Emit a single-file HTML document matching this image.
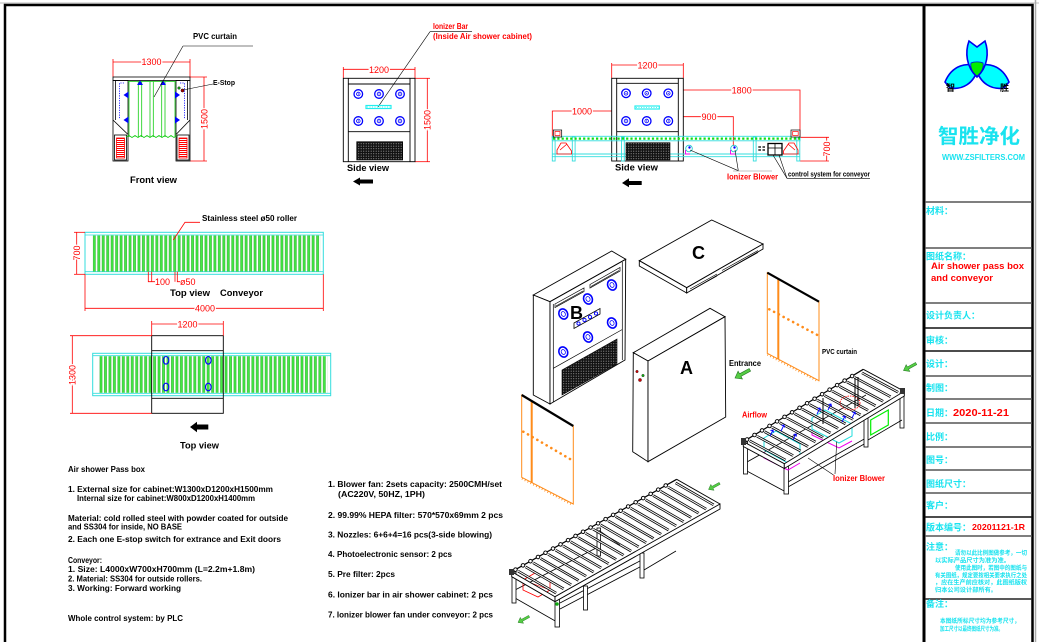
<!DOCTYPE html>
<html><head><meta charset="utf-8"><title>Air shower pass box and conveyor</title>
<style>
html,body{margin:0;padding:0;background:#fff;width:1039px;height:642px;overflow:hidden}
svg{display:block}
text{font-family:"Liberation Sans","Noto Sans CJK SC",sans-serif}
.t{font-size:8px;font-weight:bold;fill:#000}
.d{font-size:9px;fill:#f00;paint-order:stroke;stroke:#fff;stroke-width:2.5px}
.lb{font-size:9.5px;font-weight:bold;fill:#000}
.cn{font-size:9px;font-weight:bold;fill:#19e3ef}
.rd{font-weight:bold;fill:#f00}
.sm{font-size:6px;font-weight:bold;fill:#19e3ef}
</style></head><body>
<svg width="1039" height="642" viewBox="0 0 1039 642" xmlns="http://www.w3.org/2000/svg">
<defs>
<pattern id="gr" patternUnits="userSpaceOnUse" width="2.5" height="2.5"><rect width="2.5" height="2.5" fill="#111"/><rect x="0.7" y="0.7" width="1" height="1" fill="#999"/></pattern>
<pattern id="rg" patternUnits="userSpaceOnUse" width="4" height="2"><rect width="4" height="2" fill="#fff"/><rect width="4" height="1" fill="#f00"/></pattern>
<pattern id="ra" patternUnits="userSpaceOnUse" x="92.8" y="0" width="4.466" height="10"><rect x="0.2" width="2.6" height="10" fill="#119911"/><rect x="0.7" width="1.6" height="10" fill="#44ee44"/></pattern>
<pattern id="rb" patternUnits="userSpaceOnUse" x="99.5" y="0" width="4.466" height="10"><rect x="0.2" width="2.6" height="10" fill="#119911"/><rect x="0.7" width="1.6" height="10" fill="#44ee44"/></pattern>
<g id="nz"><circle r="4.3" fill="none" stroke="#00f" stroke-width="1.3"/><circle r="1.8" fill="none" stroke="#00f" stroke-width="0.8"/><circle r="0.6" fill="#00f"/></g>
<g id="nzi"><ellipse rx="4.3" ry="5.2" transform="rotate(-25)" fill="#fff" stroke="#00f" stroke-width="1.6"/><ellipse rx="2" ry="2.5" transform="rotate(-25)" fill="none" stroke="#00f" stroke-width="0.8"/></g>
<polygon id="ga" points="0,0 3.09,-6.83 4.54,-4.2 14.18,-9.5 15.62,-6.88 5.98,-1.58 7.43,1.05" fill="#55cc44" stroke="#227722" stroke-width="0.6"/>
<g id="rl22">
<line x1="0.5" y1="0.06" x2="0.5" y2="0.94" vector-effect="non-scaling-stroke"/><line x1="1.5" y1="0.06" x2="1.5" y2="0.94" vector-effect="non-scaling-stroke"/><line x1="2.5" y1="0.06" x2="2.5" y2="0.94" vector-effect="non-scaling-stroke"/><line x1="3.5" y1="0.06" x2="3.5" y2="0.94" vector-effect="non-scaling-stroke"/><line x1="4.5" y1="0.06" x2="4.5" y2="0.94" vector-effect="non-scaling-stroke"/><line x1="5.5" y1="0.06" x2="5.5" y2="0.94" vector-effect="non-scaling-stroke"/><line x1="6.5" y1="0.06" x2="6.5" y2="0.94" vector-effect="non-scaling-stroke"/><line x1="7.5" y1="0.06" x2="7.5" y2="0.94" vector-effect="non-scaling-stroke"/><line x1="8.5" y1="0.06" x2="8.5" y2="0.94" vector-effect="non-scaling-stroke"/><line x1="9.5" y1="0.06" x2="9.5" y2="0.94" vector-effect="non-scaling-stroke"/><line x1="10.5" y1="0.06" x2="10.5" y2="0.94" vector-effect="non-scaling-stroke"/><line x1="11.5" y1="0.06" x2="11.5" y2="0.94" vector-effect="non-scaling-stroke"/><line x1="12.5" y1="0.06" x2="12.5" y2="0.94" vector-effect="non-scaling-stroke"/><line x1="13.5" y1="0.06" x2="13.5" y2="0.94" vector-effect="non-scaling-stroke"/><line x1="14.5" y1="0.06" x2="14.5" y2="0.94" vector-effect="non-scaling-stroke"/><line x1="15.5" y1="0.06" x2="15.5" y2="0.94" vector-effect="non-scaling-stroke"/><line x1="16.5" y1="0.06" x2="16.5" y2="0.94" vector-effect="non-scaling-stroke"/><line x1="17.5" y1="0.06" x2="17.5" y2="0.94" vector-effect="non-scaling-stroke"/><line x1="18.5" y1="0.06" x2="18.5" y2="0.94" vector-effect="non-scaling-stroke"/><line x1="19.5" y1="0.06" x2="19.5" y2="0.94" vector-effect="non-scaling-stroke"/><line x1="20.5" y1="0.06" x2="20.5" y2="0.94" vector-effect="non-scaling-stroke"/><line x1="21.5" y1="0.06" x2="21.5" y2="0.94" vector-effect="non-scaling-stroke"/>
</g>
<g id="rl16">
<line x1="0.5" y1="0.06" x2="0.5" y2="0.94" vector-effect="non-scaling-stroke"/><line x1="1.5" y1="0.06" x2="1.5" y2="0.94" vector-effect="non-scaling-stroke"/><line x1="2.5" y1="0.06" x2="2.5" y2="0.94" vector-effect="non-scaling-stroke"/><line x1="3.5" y1="0.06" x2="3.5" y2="0.94" vector-effect="non-scaling-stroke"/><line x1="4.5" y1="0.06" x2="4.5" y2="0.94" vector-effect="non-scaling-stroke"/><line x1="5.5" y1="0.06" x2="5.5" y2="0.94" vector-effect="non-scaling-stroke"/><line x1="6.5" y1="0.06" x2="6.5" y2="0.94" vector-effect="non-scaling-stroke"/><line x1="7.5" y1="0.06" x2="7.5" y2="0.94" vector-effect="non-scaling-stroke"/><line x1="8.5" y1="0.06" x2="8.5" y2="0.94" vector-effect="non-scaling-stroke"/><line x1="9.5" y1="0.06" x2="9.5" y2="0.94" vector-effect="non-scaling-stroke"/><line x1="10.5" y1="0.06" x2="10.5" y2="0.94" vector-effect="non-scaling-stroke"/><line x1="11.5" y1="0.06" x2="11.5" y2="0.94" vector-effect="non-scaling-stroke"/><line x1="12.5" y1="0.06" x2="12.5" y2="0.94" vector-effect="non-scaling-stroke"/><line x1="13.5" y1="0.06" x2="13.5" y2="0.94" vector-effect="non-scaling-stroke"/><line x1="14.5" y1="0.06" x2="14.5" y2="0.94" vector-effect="non-scaling-stroke"/><line x1="15.5" y1="0.06" x2="15.5" y2="0.94" vector-effect="non-scaling-stroke"/>
</g>
</defs>

<!-- ===== FRAME ===== -->
<line x1="0" y1="3" x2="1039" y2="3" stroke="#bbb" stroke-width="1"/>
<rect x="5" y="5" width="1027.5" height="660" fill="none" stroke="#000" stroke-width="2.5"/>
<line x1="924" y1="5" x2="924" y2="642" stroke="#000" stroke-width="3"/>
<line x1="1035.5" y1="0" x2="1035.5" y2="642" stroke="#aaa" stroke-width="1.5"/>

<!-- ===== TITLE BLOCK ===== -->
<g stroke="#555" stroke-width="1.6">
<line x1="925" y1="202" x2="1032" y2="202"/><line x1="925" y1="248" x2="1032" y2="248"/>
<line x1="925" y1="303" x2="1032" y2="303"/><line x1="925" y1="328" x2="1032" y2="328" stroke="#111"/>
<line x1="925" y1="351" x2="1032" y2="351" stroke="#111"/><line x1="925" y1="376" x2="1032" y2="376"/>
<line x1="925" y1="399" x2="1032" y2="399"/><line x1="925" y1="423" x2="1032" y2="423"/>
<line x1="925" y1="447" x2="1032" y2="447"/><line x1="925" y1="470" x2="1032" y2="470"/>
<line x1="925" y1="493" x2="1032" y2="493"/><line x1="925" y1="517" x2="1032" y2="517" stroke="#111"/>
<line x1="925" y1="536" x2="1032" y2="536"/><line x1="925" y1="599" x2="1032" y2="599" stroke="#222"/>
</g>
<!-- logo -->
<g stroke="#0000ee" stroke-width="1.6" fill="#00ffff">
<path d="M978,68 C968,61 952,65 945,82 L950,88 C962,90 974,84 978,68 Z"/>
<path d="M976,68 C986,61 1002,65 1009,82 L1004,88 C992,90 980,84 976,68 Z"/>
<path d="M977,77 C966,67 965,52 969,41 L977,47 L985,41 C989,52 988,67 977,77 Z"/>
</g>
<path d="M977,76 C972,72 970,67 971,63 C974,61.5 980,61.5 983,63 C984,67 982,72 977,76 Z" fill="#00ee00" stroke="#0000ee" stroke-width="0.8"/>
<text x="946" y="91" style="font-size:9px;font-weight:bold;fill:#000">智</text>
<text x="1000" y="91" style="font-size:9px;font-weight:bold;fill:#000">胜</text>
<text x="938" y="143" style="font-size:20px;font-weight:bold;fill:#19e3ef" textLength="82" lengthAdjust="spacingAndGlyphs">智胜净化</text>
<text x="942" y="160" style="font-size:8px;font-weight:bold;fill:#19e3ef" textLength="83" lengthAdjust="spacingAndGlyphs">WWW.ZSFILTERS.COM</text>

<text x="926" y="214" class="cn">材料：</text>
<text x="926" y="259.5" class="cn">图纸名称：</text>
<text x="931" y="269" class="rd" style="font-size:9px" textLength="93" lengthAdjust="spacingAndGlyphs">Air shower pass box</text>
<text x="931" y="281" class="rd" style="font-size:9px" textLength="62" lengthAdjust="spacingAndGlyphs">and conveyor</text>
<text x="926" y="318.5" class="cn">设计负责人：</text>
<text x="926" y="343.5" class="cn">审核：</text>
<text x="926" y="367" class="cn">设计：</text>
<text x="926" y="391" class="cn">制图：</text>
<text x="926" y="416" class="cn">日期：</text>
<text x="953" y="416" class="rd" style="font-size:10px" textLength="56" lengthAdjust="spacingAndGlyphs">2020-11-21</text>
<text x="926" y="440" class="cn">比例：</text>
<text x="926" y="463" class="cn">图号：</text>
<text x="926" y="487" class="cn">图纸尺寸：</text>
<text x="926" y="508.5" class="cn">客户：</text>
<text x="926" y="530.5" class="cn">版本编号：</text>
<text x="972" y="530" class="rd" style="font-size:8.5px" textLength="53" lengthAdjust="spacingAndGlyphs">20201121-1R</text>
<text x="926" y="550" class="cn">注意：</text>
<text x="955" y="555" class="sm" textLength="72" lengthAdjust="spacingAndGlyphs">请勿以此比例图做参考，一切</text>
<text x="935" y="562.5" class="sm" textLength="75" lengthAdjust="spacingAndGlyphs">以实际产品尺寸为准为准。</text>
<text x="955" y="570" class="sm" textLength="72" lengthAdjust="spacingAndGlyphs">使用此图时，若图中的图纸与</text>
<text x="935" y="577.5" class="sm" textLength="92" lengthAdjust="spacingAndGlyphs">有关图纸，规定要按相关要求执行之处</text>
<text x="935" y="584.5" class="sm" textLength="92" lengthAdjust="spacingAndGlyphs">，应在生产前应核对，此图纸版权</text>
<text x="935" y="592" class="sm" textLength="62" lengthAdjust="spacingAndGlyphs">归本公司设计部所有。</text>
<text x="926" y="607" class="cn">备注：</text>
<text x="940" y="623" class="sm" textLength="80" lengthAdjust="spacingAndGlyphs">本图纸所标尺寸均为参考尺寸，</text>
<text x="940" y="631" class="sm" textLength="63" lengthAdjust="spacingAndGlyphs">加工尺寸以最终图纸尺寸为准。</text>

<!-- ===== FRONT VIEW ===== -->
<g stroke="#f00" stroke-width="0.8" fill="none">
<line x1="113" y1="62" x2="190" y2="62"/><line x1="113" y1="59" x2="113" y2="77"/><line x1="190" y1="59" x2="190" y2="77"/>
<line x1="204" y1="77" x2="204" y2="161"/><line x1="190" y1="77" x2="207" y2="77"/><line x1="190" y1="161" x2="207" y2="161"/>
</g>
<text x="151.5" y="65" class="d" text-anchor="middle">1300</text>
<text transform="translate(207.3,119) rotate(-90)" class="d" text-anchor="middle">1500</text>
<g fill="none" stroke="#000" stroke-width="0.8">
<rect x="113" y="77" width="77" height="3.5"/>
<rect x="113" y="80.5" width="15" height="80.5"/>
<rect x="176" y="80.5" width="14" height="80.5"/>
<line x1="115.5" y1="80.5" x2="115.5" y2="120"/><line x1="113" y1="120" x2="127.5" y2="134"/>
<line x1="187.5" y1="80.5" x2="187.5" y2="120"/><line x1="190" y1="120" x2="176.5" y2="134"/>
<rect x="114.5" y="135" width="12" height="25"/><rect x="177" y="135" width="12" height="25"/>
</g>
<rect x="116.5" y="138" width="8" height="20" fill="url(#rg)" stroke="#f00" stroke-width="0.8"/>
<rect x="179" y="138" width="8" height="20" fill="url(#rg)" stroke="#f00" stroke-width="0.8"/>
<g stroke="#00f" stroke-width="0.8" stroke-dasharray="1.2 1.2" fill="none">
<polyline points="124,83 119.5,83 119.5,119"/><polyline points="180,83 184.5,83 184.5,119"/>
</g>
<g stroke="#1c1" stroke-width="0.8" fill="none">
<line x1="128" y1="81.5" x2="176" y2="81.5"/>
<line x1="129" y1="81.5" x2="129" y2="137"/><line x1="138.3" y1="81.5" x2="138.3" y2="137"/><line x1="141.7" y1="81.5" x2="141.7" y2="137"/><line x1="150" y1="81.5" x2="150" y2="137"/><line x1="153.3" y1="81.5" x2="153.3" y2="137"/><line x1="161.7" y1="81.5" x2="161.7" y2="137"/><line x1="165" y1="81.5" x2="165" y2="137"/><line x1="175" y1="81.5" x2="175" y2="137"/>
<polyline points="126,137 129,135.5 132,137.5 135,135.5 138,137.5 141,135.5 144,137.5 147,135.5 150,137.5 153,135.5 156,137.5 159,135.5 162,137.5 165,135.5 168,137.5 171,135.5 174,137.5 177,135.5"/>
</g>
<g fill="#00f">
<polygon points="137,85 143,85 140,80.5"/><polygon points="160,85 166,85 163,80.5"/>
<polygon points="123.5,95 128.5,91.5 128.5,98.5"/><polygon points="123.5,120 128.5,116.5 128.5,123.5"/>
<polygon points="180,95 175,91.5 175,98.5"/><polygon points="180,120 175,116.5 175,123.5"/>
</g>
<circle cx="179" cy="88" r="1.3" fill="#1a1" stroke="#000" stroke-width="0.4"/>
<circle cx="182.5" cy="90.5" r="1.6" fill="#a00" stroke="#000" stroke-width="0.4"/>
<line x1="183" y1="90" x2="213" y2="84" stroke="#000" stroke-width="0.6"/>
<text x="213" y="85" class="t" style="font-size:7px" textLength="22" lengthAdjust="spacingAndGlyphs">E-Stop</text>
<line x1="183" y1="46" x2="253" y2="46" stroke="#000" stroke-width="0.6"/>
<line x1="183" y1="46" x2="154" y2="97" stroke="#000" stroke-width="0.6"/>
<text x="193" y="39" class="t" style="font-size:8.5px" textLength="44" lengthAdjust="spacingAndGlyphs">PVC curtain</text>
<text x="130" y="183" class="lb" textLength="47" lengthAdjust="spacingAndGlyphs">Front view</text>

<!-- ===== SIDE VIEW (middle) ===== -->
<text x="433" y="29" class="rd" style="font-size:8px" textLength="35" lengthAdjust="spacingAndGlyphs">Ionizer Bar</text>
<text x="433" y="39" class="rd" style="font-size:8px" textLength="99" lengthAdjust="spacingAndGlyphs">(Inside Air shower cabinet)</text>
<line x1="430" y1="31.7" x2="472" y2="31.7" stroke="#000" stroke-width="0.6"/>
<line x1="430" y1="31.7" x2="378" y2="107" stroke="#000" stroke-width="0.6"/>
<g stroke="#f00" stroke-width="0.8" fill="none">
<line x1="343.3" y1="69.3" x2="415" y2="69.3"/><line x1="343.3" y1="67" x2="343.3" y2="78"/><line x1="415" y1="67" x2="415" y2="78"/>
<line x1="427.3" y1="78.3" x2="427.3" y2="161.7"/><line x1="415" y1="78.3" x2="430" y2="78.3"/><line x1="415" y1="161.7" x2="430" y2="161.7"/>
</g>
<text x="379" y="72.8" class="d" text-anchor="middle">1200</text>
<text transform="translate(430.5,120) rotate(-90)" class="d" text-anchor="middle">1500</text>
<g fill="none" stroke="#000" stroke-width="0.9">
<rect x="343.3" y="78.3" width="71.7" height="83.4"/>
<line x1="348.3" y1="78.3" x2="348.3" y2="161.7"/><line x1="410" y1="78.3" x2="410" y2="161.7"/>
<line x1="348.3" y1="84" x2="410" y2="84"/><line x1="348.3" y1="131.7" x2="410" y2="131.7"/>
</g>
<use href="#nz" x="358.3" y="94"/><use href="#nz" x="379" y="94"/><use href="#nz" x="400" y="94"/>
<use href="#nz" x="358.3" y="121"/><use href="#nz" x="379" y="121"/><use href="#nz" x="400" y="121"/>
<rect x="366" y="105.5" width="25" height="3" fill="none" stroke="#2ee" stroke-width="1.2"/>
<line x1="367" y1="107" x2="390" y2="107" stroke="#2ee" stroke-width="0.8" stroke-dasharray="1 1.5"/>
<rect x="356.7" y="141.7" width="46" height="18.3" fill="url(#gr)" stroke="#000" stroke-width="0.6"/>
<text x="347" y="171" class="lb" textLength="42" lengthAdjust="spacingAndGlyphs">Side view</text>
<polygon points="353,181.5 360,177.5 360,179.5 373,179.5 373,183.5 360,183.5 360,185.5" fill="#000"/>

<!-- ===== SIDE VIEW (right, with conveyor) ===== -->
<g stroke="#f00" stroke-width="0.8" fill="none">
<line x1="611.7" y1="65" x2="683.3" y2="65"/><line x1="611.7" y1="63" x2="611.7" y2="78"/><line x1="683.3" y1="63" x2="683.3" y2="78"/>
<polyline points="683.3,90 800,90 800,138"/>
<polyline points="611.7,111 552.3,111 552.3,138"/>
<polyline points="683.3,116.7 733.3,116.7 733.3,146"/>
<line x1="826.7" y1="137.3" x2="826.7" y2="161"/><line x1="800" y1="137.3" x2="829" y2="137.3"/><line x1="800" y1="161" x2="829" y2="161"/>
</g>
<text x="647.5" y="68.5" class="d" text-anchor="middle">1200</text>
<text x="741.7" y="93.5" class="d" text-anchor="middle">1800</text>
<text x="582" y="114.5" class="d" text-anchor="middle">1000</text>
<text x="709" y="120" class="d" text-anchor="middle">900</text>
<text transform="translate(830,149) rotate(-90)" class="d" text-anchor="middle">700</text>
<g fill="none" stroke="#000" stroke-width="0.9">
<rect x="611.7" y="78.3" width="71.6" height="82.7" fill="#fff"/>
<line x1="616.7" y1="78.3" x2="616.7" y2="161"/><line x1="678.3" y1="78.3" x2="678.3" y2="161"/>
<line x1="616.7" y1="83.3" x2="678.3" y2="83.3"/><line x1="616.7" y1="131.7" x2="678.3" y2="131.7"/>
</g>
<use href="#nz" x="626" y="93.3"/><use href="#nz" x="646.7" y="93.3"/><use href="#nz" x="668.3" y="93.3"/>
<use href="#nz" x="626" y="121"/><use href="#nz" x="646.7" y="121"/><use href="#nz" x="668.3" y="121"/>
<rect x="635" y="106" width="24.3" height="3" fill="none" stroke="#2ee" stroke-width="1.2"/>
<line x1="636" y1="107.5" x2="658" y2="107.5" stroke="#2ee" stroke-width="0.8" stroke-dasharray="1 1.5"/>
<g stroke="#3dd" stroke-width="0.9" fill="none">
<rect x="552.3" y="136.3" width="247.7" height="4.5"/>
<line x1="552.3" y1="154" x2="800" y2="154"/><line x1="552.3" y1="156.7" x2="800" y2="156.7"/>
<rect x="552.3" y="137" width="2.8" height="24"/><rect x="572.3" y="137" width="2.8" height="24"/>
<rect x="621.5" y="137" width="2.8" height="24"/><rect x="753.3" y="137" width="2.8" height="24"/>
<rect x="796.8" y="137" width="3" height="24"/>
</g>
<line x1="553" y1="138.6" x2="800" y2="138.6" stroke="#1d1" stroke-width="2.2" stroke-dasharray="2.2 2.1"/>
<rect x="626" y="142.7" width="44" height="17.3" fill="url(#gr)" stroke="#000" stroke-width="0.6"/>
<rect x="553.3" y="130" width="8.4" height="7" fill="#fff" stroke="#000" stroke-width="0.7"/>
<rect x="555" y="131.5" width="5" height="4" fill="none" stroke="#f00" stroke-width="0.7"/>
<rect x="791" y="130" width="9" height="7" fill="#fff" stroke="#000" stroke-width="0.7"/>
<rect x="792.7" y="131.5" width="5.5" height="4" fill="none" stroke="#f00" stroke-width="0.7"/>
<g fill="none" stroke="#f00" stroke-width="0.8">
<polygon points="557,154 571.5,154 571.5,151 566,143 561,143 557,150"/><line x1="560" y1="150" x2="567" y2="144"/>
<polygon points="783.5,154 798,154 798,150 794,143 789,143 783.5,151"/><line x1="795" y1="150" x2="788" y2="144"/>
</g>
<g fill="none" stroke-width="0.9">
<circle cx="689" cy="148.5" r="3.3" stroke="#2cc"/><circle cx="734" cy="148.5" r="3.3" stroke="#2cc"/>
<polyline points="685.5,150 685.5,154 690,154" stroke="#e0e"/><polyline points="730.5,150 730.5,154 735,154" stroke="#e0e"/>
</g>
<circle cx="689.5" cy="147.5" r="1.2" fill="#00f"/><circle cx="734.5" cy="147.5" r="1.2" fill="#00f"/>
<g stroke="#000">
<line x1="758.3" y1="147" x2="761" y2="147" stroke-width="1.3"/><line x1="762.5" y1="147" x2="765" y2="147" stroke-width="1.3"/>
<line x1="758.3" y1="150" x2="761" y2="150" stroke-width="1.3"/><line x1="762.5" y1="150" x2="765" y2="150" stroke-width="1.3"/>
<rect x="768" y="143.5" width="14" height="11.5" fill="#fff" stroke-width="1.3"/>
<line x1="775" y1="143.5" x2="775" y2="155" stroke-width="0.8"/><line x1="768" y1="148" x2="782" y2="148" stroke-width="0.8"/>
</g>
<g stroke="#000" stroke-width="0.6" fill="none">
<line x1="690" y1="150" x2="738.3" y2="170.7"/><line x1="735" y1="150" x2="738.3" y2="170.7"/>
<line x1="733" y1="171" x2="772" y2="171" stroke="#888"/>
<line x1="773" y1="155" x2="787" y2="178.3"/><line x1="779" y1="155" x2="787" y2="178.3"/>
<line x1="787" y1="178.3" x2="870" y2="178.3"/>
</g>
<text x="727" y="179.5" class="rd" style="font-size:8.5px" textLength="51" lengthAdjust="spacingAndGlyphs">Ionizer Blower</text>
<text x="788" y="176.7" class="t" style="font-size:7px" textLength="82" lengthAdjust="spacingAndGlyphs">control system for conveyor</text>
<text x="615" y="170.5" class="lb" textLength="43" lengthAdjust="spacingAndGlyphs">Side view</text>
<polygon points="622,183 629,178.3 629,181 641.7,181 641.7,185 629,185 629,187.3" fill="#000"/>

<!-- ===== TOP VIEW CONVEYOR ===== -->
<rect x="85" y="232.3" width="238.3" height="42" fill="none" stroke="#3dd" stroke-width="1"/>
<line x1="85" y1="235" x2="323.3" y2="235" stroke="#3dd" stroke-width="0.8"/>
<line x1="85" y1="271.7" x2="323.3" y2="271.7" stroke="#3dd" stroke-width="0.8"/>
<rect x="92.8" y="235.5" width="227.8" height="36" fill="url(#ra)"/>
<g stroke="#f00" stroke-width="0.8" fill="none">
<line x1="76.7" y1="232.3" x2="76.7" y2="274.3"/><line x1="74" y1="232.3" x2="85" y2="232.3"/><line x1="74" y1="274.3" x2="85" y2="274.3"/>
<line x1="85" y1="308.3" x2="323.3" y2="308.3"/><line x1="85" y1="274.3" x2="85" y2="311"/><line x1="323.3" y1="274.3" x2="323.3" y2="311"/>
<polyline points="148.3,271.7 148.3,281.7 155,281.7"/><line x1="151.7" y1="271.7" x2="151.7" y2="281.7"/>
<line x1="175" y1="271.7" x2="175" y2="281.7"/><polyline points="177.3,271.7 177.3,281.7 180,281.7"/>
<polyline points="173.3,240 185,222.3 200,222.3"/>
</g>
<text transform="translate(80,253) rotate(-90)" class="d" text-anchor="middle">700</text>
<text x="205" y="311.5" class="d" text-anchor="middle">4000</text>
<text x="155" y="285" class="d" style="stroke-width:0">100</text>
<text x="180" y="285" class="d" style="stroke-width:0">ø50</text>
<text x="202" y="221" class="t" textLength="95" lengthAdjust="spacingAndGlyphs">Stainless steel ø50 roller</text>
<text x="170" y="296" class="lb" textLength="40" lengthAdjust="spacingAndGlyphs">Top view</text>
<text x="220" y="296" class="lb" textLength="43" lengthAdjust="spacingAndGlyphs">Conveyor</text>

<!-- ===== TOP VIEW 2 ===== -->
<rect x="92.7" y="353.3" width="238" height="42.4" fill="none" stroke="#3dd" stroke-width="1"/>
<line x1="92.7" y1="355.7" x2="330.7" y2="355.7" stroke="#3dd" stroke-width="0.8"/>
<line x1="92.7" y1="393.3" x2="330.7" y2="393.3" stroke="#3dd" stroke-width="0.8"/>
<rect x="99.5" y="356.2" width="227.8" height="36.6" fill="url(#rb)"/>
<g fill="none" stroke="#000" stroke-width="0.9">
<rect x="151.7" y="335.7" width="71.6" height="77.6"/>
<line x1="151.7" y1="350.7" x2="223.3" y2="350.7"/><line x1="151.7" y1="398.3" x2="223.3" y2="398.3"/>
</g>
<g fill="none" stroke="#00f" stroke-width="1.1">
<ellipse cx="166" cy="360.3" rx="2.8" ry="3.8"/><ellipse cx="208.3" cy="360.3" rx="2.8" ry="3.8"/>
<ellipse cx="166" cy="387" rx="2.8" ry="3.8"/><ellipse cx="208.3" cy="387" rx="2.8" ry="3.8"/>
</g>
<g stroke="#f00" stroke-width="0.8" fill="none">
<line x1="151.7" y1="324" x2="223.3" y2="324"/><line x1="151.7" y1="321" x2="151.7" y2="335.7"/><line x1="223.3" y1="321" x2="223.3" y2="335.7"/>
<line x1="72.3" y1="335.7" x2="72.3" y2="413.3"/><line x1="70" y1="335.7" x2="151.7" y2="335.7"/><line x1="70" y1="413.3" x2="151.7" y2="413.3"/>
</g>
<text x="187.5" y="327.5" class="d" text-anchor="middle">1200</text>
<text transform="translate(75.6,375) rotate(-90)" class="d" text-anchor="middle">1300</text>
<polygon points="190,427 197,421.7 197,424.5 208.3,424.5 208.3,429.5 197,429.5 197,432.3" fill="#000"/>
<text x="180" y="448.5" class="lb" textLength="39" lengthAdjust="spacingAndGlyphs">Top view</text>

<!-- ===== SPEC TEXT ===== -->
<text x="68" y="472" class="t" textLength="77" lengthAdjust="spacingAndGlyphs">Air shower Pass box</text>
<text x="68" y="492" class="t" textLength="205" lengthAdjust="spacingAndGlyphs">1. External size for cabinet:W1300xD1200xH1500mm</text>
<text x="77" y="501" class="t" textLength="178" lengthAdjust="spacingAndGlyphs">Internal size for cabinet:W800xD1200xH1400mm</text>
<text x="68" y="521" class="t" textLength="220" lengthAdjust="spacingAndGlyphs">Material: cold rolled steel with powder coated  for outside</text>
<text x="68" y="529.5" class="t" textLength="114" lengthAdjust="spacingAndGlyphs">and SS304 for inside, NO BASE</text>
<text x="68" y="542" class="t" textLength="213" lengthAdjust="spacingAndGlyphs">2. Each one  E-stop switch for extrance and Exit doors</text>
<text x="68" y="563" class="t" textLength="34" lengthAdjust="spacingAndGlyphs">Conveyor:</text>
<text x="68" y="572" class="t" textLength="187" lengthAdjust="spacingAndGlyphs">1. Size: L4000xW700xH700mm  (L=2.2m+1.8m)</text>
<text x="68" y="581.5" class="t" textLength="134" lengthAdjust="spacingAndGlyphs">2. Material: SS304 for outside rollers.</text>
<text x="68" y="591" class="t" textLength="113" lengthAdjust="spacingAndGlyphs">3. Working: Forward  working</text>
<text x="68" y="621" class="t" textLength="115" lengthAdjust="spacingAndGlyphs">Whole control system: by PLC</text>

<text x="328" y="487" class="t" textLength="174" lengthAdjust="spacingAndGlyphs">1. Blower fan: 2sets  capacity: 2500CMH/set</text>
<text x="338" y="497" class="t" textLength="87" lengthAdjust="spacingAndGlyphs">(AC220V, 50HZ, 1PH)</text>
<text x="328" y="518" class="t" textLength="175" lengthAdjust="spacingAndGlyphs">2. 99.99% HEPA filter: 570*570x69mm 2 pcs</text>
<text x="328" y="537.5" class="t" textLength="164" lengthAdjust="spacingAndGlyphs">3. Nozzles: 6+6+4=16 pcs(3-side blowing)</text>
<text x="328" y="557" class="t" textLength="124" lengthAdjust="spacingAndGlyphs">4. Photoelectronic sensor: 2 pcs</text>
<text x="328" y="577" class="t" textLength="67" lengthAdjust="spacingAndGlyphs">5. Pre filter: 2pcs</text>
<text x="328" y="597.5" class="t" textLength="165" lengthAdjust="spacingAndGlyphs">6. Ionizer bar in air shower cabinet: 2 pcs</text>
<text x="328" y="617.5" class="t" textLength="165" lengthAdjust="spacingAndGlyphs">7. Ionizer blower fan under conveyor: 2 pcs</text>

<!-- ===== ISOMETRIC: PANEL C ===== -->
<g stroke="#000" stroke-width="0.9" fill="#fff">
<polygon points="639.3,260.7 711.7,220 763,244 686.7,287.7"/>
<polygon points="639.3,260.7 686.7,287.7 686.7,293 639.3,266"/>
<polygon points="686.7,287.7 763,244 763,249 686.7,293"/>
</g>
<g stroke="#000" stroke-width="0.7">
<line x1="690" y1="289" x2="717" y2="274"/><line x1="690" y1="291" x2="717" y2="276"/>
<line x1="722" y1="270.5" x2="758" y2="250.5"/><line x1="722" y1="272.5" x2="758" y2="252.5"/>
</g>
<text x="692" y="259" style="font-size:18px;font-weight:bold;fill:#000">C</text>

<!-- ===== PANEL B ===== -->
<g stroke="#000" stroke-width="0.9" fill="#fff">
<polygon points="533.3,295 611.7,251 625.7,259.3 550,301.7"/>
<polygon points="533.3,295 550,301.7 550,404 533.3,395"/>
<polygon points="550,301.7 625.7,259.3 625,360 550,404"/>
</g>
<g stroke="#000" stroke-width="0.7" fill="none">
<line x1="553.3" y1="304" x2="553.3" y2="402"/><line x1="622.3" y1="262" x2="622.3" y2="360"/>
<line x1="553.3" y1="368.3" x2="622.3" y2="329.5"/>
<polygon points="555,304 584,288 584,291.5 555,307.5" fill="#fff"/>
<polygon points="590,284.5 620,267.5 620,271 590,288" fill="#fff"/>
<line x1="556" y1="306" x2="583" y2="291"/><line x1="591" y1="286.5" x2="619" y2="270.5"/>
</g>
<polygon points="562,370 617,339 617,364 562,395" fill="url(#gr)" stroke="#000" stroke-width="0.6"/>
<use href="#nzi" x="563.3" y="314"/><use href="#nzi" x="588" y="299"/><use href="#nzi" x="612" y="285"/>
<use href="#nzi" x="612" y="323"/><use href="#nzi" x="588" y="337"/><use href="#nzi" x="563.3" y="352"/>
<polygon points="574,323 600,308.5 600,314 574,328.5" fill="#fff" stroke="#000" stroke-width="0.8"/>
<g fill="none" stroke="#00f" stroke-width="0.9">
<circle cx="578.5" cy="323.5" r="1.6"/><circle cx="584.5" cy="320" r="1.6"/><circle cx="590" cy="317" r="1.6"/><circle cx="596" cy="313.5" r="1.6"/>
</g>
<text x="570" y="319" style="font-size:18px;font-weight:bold;fill:#000">B</text>

<!-- ===== PANEL A ===== -->
<g stroke="#000" stroke-width="0.9" fill="#fff">
<polygon points="633.3,352.7 710,308.3 725,316.7 648,361"/>
<polygon points="633.3,352.7 648,361 648,461.7 632.7,451.7"/>
<polygon points="648,361 725,316.7 725.7,417 648,461.7"/>
</g>
<circle cx="637" cy="371.5" r="1.3" fill="#c00" stroke="#000" stroke-width="0.3"/>
<circle cx="643" cy="375.5" r="1.3" fill="#1a1" stroke="#000" stroke-width="0.3"/>
<circle cx="640" cy="380" r="1.6" fill="#c00" stroke="#000" stroke-width="0.3"/>
<text x="680" y="374" style="font-size:18px;font-weight:bold;fill:#000">A</text>

<text x="729" y="366" class="t" textLength="32" lengthAdjust="spacingAndGlyphs">Entrance</text>
<use href="#ga" transform="translate(735,378)"/>
<text x="742" y="417.5" class="rd" style="font-size:8.5px" textLength="25" lengthAdjust="spacingAndGlyphs">Airflow</text>
<use href="#ga" transform="translate(903.5,370.5) scale(0.85)"/>
<use href="#ga" transform="translate(708.5,489.5) scale(0.75)"/>
<use href="#ga" transform="translate(518,622.5) scale(0.75)"/>

<!-- ===== CURTAINS ===== -->
<g fill="none" stroke="#ff8c1a" stroke-width="1">
<polygon points="521.7,395 573.3,426 573.3,504 521.7,477.3"/>
<polygon points="767.3,272.7 819,301.7 819,380.7 767.3,353.3"/>
</g>
<g stroke="#ff8c1a" stroke-width="2">
<line x1="531.7" y1="401" x2="531.7" y2="483"/>
<line x1="778.3" y1="279" x2="778.3" y2="359"/>
</g>
<g stroke="#ff8c1a" stroke-width="2.6" stroke-linecap="round" stroke-dasharray="0.1 5.3">
<line x1="523.3" y1="431.7" x2="571.7" y2="460"/>
<line x1="769.3" y1="309.3" x2="817.3" y2="335"/>
</g>
<g stroke="#ff8c1a" stroke-width="2.2" stroke-dasharray="0.8 2.4">
<line x1="522" y1="478.5" x2="573" y2="505"/>
<line x1="767.5" y1="354.5" x2="818.5" y2="381.5"/>
</g>
<g stroke="#000" stroke-width="2.2">
<line x1="521.7" y1="395" x2="573.3" y2="426"/>
<line x1="767.3" y1="272.7" x2="819" y2="301.7"/>
</g>
<text x="822" y="354" class="t" style="font-size:7.5px" textLength="35" lengthAdjust="spacingAndGlyphs">PVC curtain</text>

<!-- ===== RIGHT CONVEYOR (iso) ===== -->
<g stroke="#000" stroke-width="0.8" fill="#fff">
<line x1="745" y1="470" x2="786" y2="492" />
<line x1="788" y1="482" x2="866" y2="438"/><line x1="788" y1="487" x2="866" y2="443"/>
<line x1="747" y1="462" x2="866" y2="395"/>
<rect x="743.5" y="442" width="4" height="32"/>
<rect x="784" y="464" width="4.5" height="30"/>
<rect x="864" y="415" width="4" height="32"/>
<rect x="900" y="393" width="4" height="35"/>
<line x1="868" y1="440" x2="902" y2="420"/>
</g>
<polygon points="870.7,420 888.3,410 888.3,425 870.7,435" fill="none" stroke="#0e0" stroke-width="1.2"/>
<g fill="none" stroke-width="1">
<polygon points="764,438 776,431 800,444 800,456 788,463 764,450" stroke="#2dd"/>
<polyline points="764,452 764,458 788,470 800,463" stroke="#e0e"/>
<polygon points="812,418 825,410 852,424 852,436 839,443 812,429" stroke="#2dd"/>
<polyline points="812,430 812,435 839,448 852,441" stroke="#e0e"/>
</g>
<use href="#rl16" transform="matrix(7.5,-4.525,41,22,743.3,441.7)" stroke="#000" stroke-width="2.6"/>
<use href="#rl16" transform="matrix(7.5,-4.525,41,22,743.3,441.7)" stroke="#fff" stroke-width="1"/>
<g stroke="#00f" stroke-width="0.9" fill="none">
<path d="M770,436 l3,-6 m-2.5,0.5 l2.5,-0.5 l0.5,2.5"/><path d="M781,431 l3,-6 m-2.5,0.5 l2.5,-0.5 l0.5,2.5"/>
<path d="M793,440 l3,-6 m-2.5,0.5 l2.5,-0.5 l0.5,2.5"/><path d="M817,414 l3,-6 m-2.5,0.5 l2.5,-0.5 l0.5,2.5"/>
<path d="M828,410 l3,-6 m-2.5,0.5 l2.5,-0.5 l0.5,2.5"/><path d="M842,422 l3,-6 m-2.5,0.5 l2.5,-0.5 l0.5,2.5"/>
<path d="M852,418 l3,-6 m-2.5,0.5 l2.5,-0.5 l0.5,2.5"/>
</g>
<ellipse cx="850" cy="403" rx="10" ry="7" fill="none" stroke="#f00" stroke-width="0.8" stroke-dasharray="1.5 1"/>
<g stroke="#000" stroke-width="1">
<line x1="855" y1="378" x2="855" y2="408"/><line x1="858" y1="377" x2="858" y2="406"/>
<line x1="823" y1="398" x2="823" y2="424"/>
</g>
<line x1="743.3" y1="441.7" x2="863.3" y2="369.3" stroke="#000" stroke-width="1.2"/>
<line x1="747" y1="439.5" x2="859.5" y2="371.6" stroke="#000" stroke-width="4.5" stroke-linecap="round" stroke-dasharray="0.01 8.76"/>
<line x1="747" y1="439.5" x2="859.5" y2="371.6" stroke="#fff" stroke-width="2.6" stroke-linecap="round" stroke-dasharray="0.01 8.76"/>
<g stroke="#000" stroke-width="0.9" fill="#fff">
<polygon points="743.3,441.7 784.3,463.7 784.3,468.5 743.3,446.5"/>
<polygon points="784.3,463.7 904.3,391.3 904.3,396 784.3,468.5"/>
<line x1="863.3" y1="369.3" x2="904.3" y2="391.3"/>
</g>
<rect x="900" y="388" width="5" height="6" fill="#333"/>
<rect x="741" y="438" width="5" height="7" fill="#333"/>
<g stroke="#000" stroke-width="0.6" fill="none">
<line x1="808" y1="458" x2="833.5" y2="475"/><line x1="836.7" y1="441.7" x2="835" y2="474"/>
</g>
<text x="833" y="481" class="rd" style="font-size:8.5px" textLength="52" lengthAdjust="spacingAndGlyphs">Ionizer Blower</text>

<!-- ===== LEFT CONVEYOR (iso) ===== -->
<g stroke="#000" stroke-width="0.8" fill="#fff">
<line x1="515" y1="598" x2="557" y2="622"/>
<line x1="515" y1="590" x2="598" y2="547"/>
<line x1="560" y1="603" x2="641.7" y2="560"/><line x1="560" y1="609" x2="641.7" y2="566"/>
<line x1="644" y1="570" x2="676" y2="551"/>
<rect x="512" y="572" width="4" height="31"/>
<rect x="555" y="598" width="4.5" height="29"/>
<rect x="583.5" y="586" width="4" height="24"/>
<rect x="640" y="553" width="4" height="25"/>
<rect x="597" y="528" width="3.5" height="28"/>
</g>
<polygon points="523,580 535,573 550,580 550,590 538,597 523,590" fill="none" stroke="#f00" stroke-width="0.8"/>
<line x1="523" y1="580" x2="550" y2="590" stroke="#f00" stroke-width="0.6"/>
<use href="#rl22" transform="matrix(7.5,-4.2,43.3,25,511.7,571.7)" stroke="#000" stroke-width="2.6"/>
<use href="#rl22" transform="matrix(7.5,-4.2,43.3,25,511.7,571.7)" stroke="#fff" stroke-width="1"/>
<line x1="511.7" y1="571.7" x2="676.7" y2="479.3" stroke="#000" stroke-width="1.2"/>
<line x1="515.45" y1="569.6" x2="672.95" y2="481.4" stroke="#000" stroke-width="4.5" stroke-linecap="round" stroke-dasharray="0.01 8.6"/>
<line x1="515.45" y1="569.6" x2="672.95" y2="481.4" stroke="#fff" stroke-width="2.6" stroke-linecap="round" stroke-dasharray="0.01 8.6"/>
<g stroke="#000" stroke-width="0.9" fill="#fff">
<polygon points="511.7,571.7 555,596.7 555,601.7 511.7,576.7"/>
<polygon points="555,596.7 720,504 720,509 555,601.7"/>
<line x1="676.7" y1="479.3" x2="720" y2="504"/>
</g>
<rect x="509" y="569" width="5" height="6" fill="#333"/>
<circle cx="557" cy="604" r="1.8" fill="#1a1"/>
<line x1="598.5" y1="530" x2="620" y2="545" stroke="#000" stroke-width="0.7"/>
</svg>
</body></html>
